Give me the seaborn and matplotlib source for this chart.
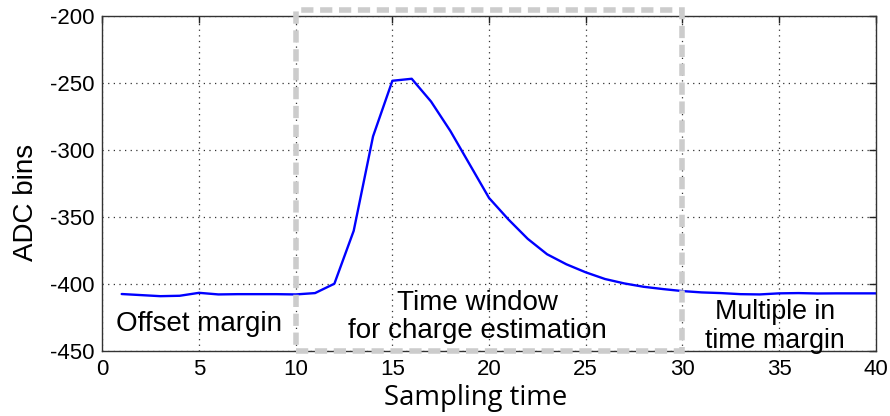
import numpy as np
import matplotlib
matplotlib.use("Agg")
import matplotlib.pyplot as plt
import seaborn as sns
from matplotlib.patches import Rectangle

# pulse samples
sample_time = list(range(1, 41))
adc_bins = [-407.7, -408.5, -409.3, -409.0, -406.8, -408.0, -407.8, -407.8, -407.8, -408.0,
            -407.0, -400.0, -360.5, -290.0, -248.5, -247.0, -264.0, -286.0, -311.0, -336.0,
            -352.0, -366.5, -378.0, -385.5, -391.5, -396.5, -399.8, -402.3, -404.0, -405.5,
            -406.5, -407.0, -407.8, -408.0, -407.2, -407.0, -407.3, -407.2, -407.2, -407.2]

window_start = 10
window_end = 30
window_top = -195.5

x_ticks = [0, 5, 10, 15, 20, 25, 30, 35, 40]
y_ticks = [-450, -400, -350, -300, -250, -200]

sns.set_style("white")
plt.rcParams['font.family'] = ['Liberation Sans', 'DejaVu Sans']
plt.rcParams['axes.unicode_minus'] = False
plt.rcParams['text.color'] = 'black'
plt.rcParams['axes.labelcolor'] = 'black'

fig = plt.figure(figsize=(8.9, 4.16), dpi=100)
ax = fig.add_axes([0.115, 0.157, 0.869, 0.805])

sns.lineplot(x=sample_time, y=adc_bins, color='#0000ff', linewidth=1.7, ax=ax)

ax.set_xlim(0, 40)
ax.set_ylim(-450, -200)
ax.set_xticks(x_ticks)
ax.set_yticks(y_ticks)
ax.tick_params(direction='in', top=True, right=True, length=5, width=1,
               labelsize=16, pad=6, colors='#222222', labelcolor='black')
ax.grid(True, linestyle=(0, (1, 3.5)), color='#333333', linewidth=0.9)
for s in ax.spines.values():
    s.set_color('#333333')
    s.set_linewidth(1.0)

ax.set_ylabel("ADC bins", fontsize=20, labelpad=7.5, y=0.444)
fig.text(476 / 890, 1 - 405 / 416, "Sampling time", fontsize=19.8,
         family=['Open Sans', 'DejaVu Sans'], ha='center', va='baseline')

# the charge estimation window
rect = Rectangle((window_start, -450), window_end - window_start, window_top + 450,
                 fill=False, edgecolor='#cccccc', linewidth=4,
                 linestyle=(0, (2.2, 1.2)), clip_on=False, zorder=5)
ax.add_patch(rect)

ax.text(5.0, -435.4, "Offset margin", fontsize=20, ha='center', va='baseline')
ax.text(19.4, -440.4, "Time window\nfor charge estimation", fontsize=20,
        ha='center', va='baseline', multialignment='center', linespacing=1.11)
ax.text(34.8, -447.9, "Multiple in\ntime margin", fontsize=19.3,
        ha='center', va='baseline', multialignment='center', linespacing=1.12)

fig.savefig("out.png", dpi=100)
